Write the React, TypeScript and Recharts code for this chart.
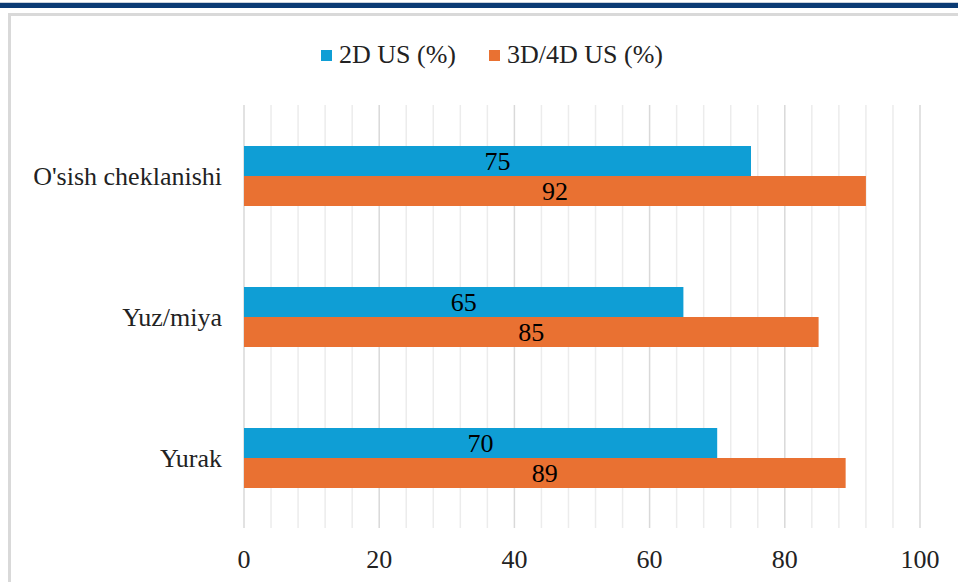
import React from 'react';
import {
  BarChart,
  Bar,
  XAxis,
  YAxis,
  CartesianGrid,
  Legend,
  LabelList,
} from 'recharts';

const categories = ["O'sish cheklanishi", 'Yuz/miya', 'Yurak'];
const us2d = [75, 65, 70];
const us3d = [92, 85, 89];
const majorTicks = [0, 20, 40, 60, 80, 100];
const minorTicks = [0, 4, 8, 12, 16, 20, 24, 28, 32, 36, 40, 44, 48, 52, 56, 60, 64, 68, 72, 76, 80, 84, 88, 92, 96, 100];
const edgeTicks = [0, 1, 2, 3];

const BLUE = '#0F9ED5';
const ORANGE = '#E97132';
const FONT = "'Liberation Serif', 'Times New Roman', serif";
const TEXT = '#222222';

const chartData = categories.map((name, i) => ({
  name,
  us2d: us2d[i],
  us3d: us3d[i],
}));

const renderLegend = (props: any) => {
  const { payload } = props;
  return (
    <div style={{ display: 'flex', alignItems: 'center', fontFamily: FONT, fontSize: 26, color: TEXT }}>
      {payload.map((entry: any, i: number) => (
        <div key={i} style={{ display: 'flex', alignItems: 'center', marginRight: 33 }}>
          <span style={{ width: 11, height: 11, background: entry.color, display: 'inline-block', marginRight: 7 }} />
          <span style={{ lineHeight: '30px' }}>{entry.value}</span>
        </div>
      ))}
    </div>
  );
};

// only label the major ticks, minor ones just feed the grid
const majorOnly = (v: number) => (majorTicks.includes(v) ? String(v) : '');

// grid line: darker on the major ticks
const gridLine = (p: any) => {
  const major = majorTicks.includes(minorTicks[p.index]);
  return (
    <line
      key={`v-${p.index}`}
      x1={p.x1}
      y1={p.y1}
      x2={p.x2}
      y2={p.y2}
      stroke={major ? '#d9d9d9' : '#ececec'}
      strokeWidth={1.5}
    />
  );
};

export default function App() {
  return (
    <div style={{ position: 'absolute', left: 0, top: 0, width: 958, height: 582, background: '#fff', overflow: 'hidden' }}>
      <div style={{ position: 'absolute', left: 0, top: 2, width: 958, height: 1, background: '#c9d1dc' }} />
      <div style={{ position: 'absolute', left: 0, top: 3, width: 958, height: 5, background: '#0b3b74' }} />
      <div
        style={{
          position: 'absolute',
          left: 8,
          top: 13,
          width: 970,
          height: 600,
          borderLeft: '3px solid #d9d9d9',
          borderTop: '3px solid #d9d9d9',
        }}
      />
      <div style={{ position: 'absolute', left: 0, top: 0 }}>
        <BarChart
          width={958}
          height={582}
          data={chartData}
          layout="vertical"
          margin={{ top: 105, right: 38, bottom: 14, left: 14 }}
          barGap={0}
        >
          <CartesianGrid xAxisId="main" yAxisId="cat" horizontal={false} vertical={gridLine} />
          <XAxis
            xAxisId="main"
            type="number"
            domain={[0, 100]}
            ticks={minorTicks}
            interval={0}
            tickFormatter={majorOnly}
            axisLine={false}
            tickLine={false}
            tickSize={0}
            tickMargin={22}
            height={40}
            tick={{ fontSize: 26, fontFamily: FONT, fill: TEXT }}
          />
          <YAxis
            yAxisId="cat"
            type="category"
            dataKey="name"
            width={230}
            axisLine={false}
            tickLine={false}
            tickSize={0}
            tickMargin={22}
            tick={{ fontSize: 26, fontFamily: FONT, fill: TEXT }}
          />
          <YAxis
            yAxisId="edge"
            type="number"
            domain={[0, 3]}
            ticks={edgeTicks}
            allowDataOverflow
            width={0}
            tick={false}
            tickSize={8}
            axisLine={{ stroke: '#d9d9d9', strokeWidth: 1.5 }}
            tickLine={{ stroke: '#d9d9d9', strokeWidth: 1.5 }}
          />
          <Legend
            layout="horizontal"
            verticalAlign="middle"
            align="center"
            content={renderLegend}
            wrapperStyle={{ position: 'absolute', top: 40, left: 321, width: 420, height: 30 }}
          />
          <Bar xAxisId="main" yAxisId="cat" dataKey="us2d" name="2D US (%)" fill={BLUE} barSize={30} isAnimationActive={false}>
            <LabelList dataKey="us2d" position="center" fill="#000" fontSize={26} fontFamily={FONT} />
          </Bar>
          <Bar xAxisId="main" yAxisId="cat" dataKey="us3d" name="3D/4D US (%)" fill={ORANGE} barSize={30} isAnimationActive={false}>
            <LabelList dataKey="us3d" position="center" fill="#000" fontSize={26} fontFamily={FONT} />
          </Bar>
        </BarChart>
      </div>
    </div>
  );
}
